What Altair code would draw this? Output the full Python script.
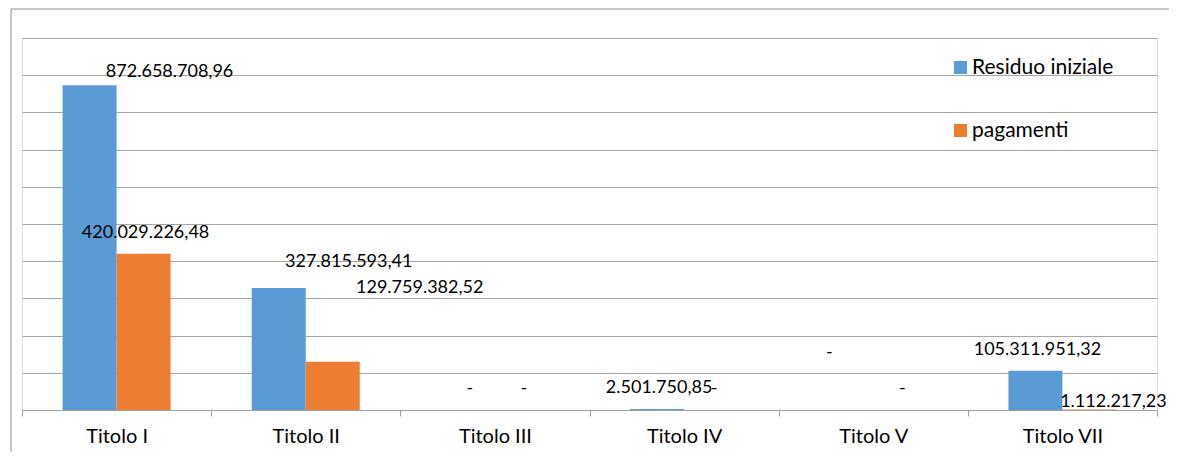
import altair as alt
import pandas as pd

categories = ["Titolo I", "Titolo II", "Titolo III", "Titolo IV", "Titolo V", "Titolo VII"]
series = ["Residuo iniziale", "pagamenti"]
residuo = [872658708.96, 327815593.41, 0, 2501750.85, 0, 105311951.32]
pagamenti = [420029226.48, 129759382.52, 0, 0, 0, 1112217.23]
y_ticks = [i * 100000000 for i in range(11)]

# data label nudges (pixels, relative to the bar top centre), as placed in the original
res_dx = [80, 70, 2, 2, -17, 2]
res_dy = [-13, -26, -21, -21, -57, -21]
pag_dx = [2, 87, 2, 3, 2, 24]
pag_dy = [-21, -74, -21, -21, -21, -8]

colors = ["#5B9BD5", "#ED7D31"]
FONT = "Lato"


def it_fmt(v):
    if v == 0:
        return "-"
    s = f"{v:,.2f}"
    return s.replace(",", "X").replace(".", ",").replace("X", ".")


rows = []
for i, c in enumerate(categories):
    rows.append(dict(category=c, series=series[0], value=residuo[i], label=it_fmt(residuo[i]),
                     dx=res_dx[i], dy=res_dy[i]))
    rows.append(dict(category=c, series=series[1], value=pagamenti[i], label=it_fmt(pagamenti[i]),
                     dx=pag_dx[i], dy=pag_dy[i]))
df = pd.DataFrame(rows)
df["idx"] = range(len(df))

x_enc = alt.X("category:N", sort=categories,
              scale=alt.Scale(domain=categories, paddingInner=0, paddingOuter=0),
              axis=alt.Axis(title=None, labelAngle=0, tickBand="extent", tickSize=6,
                            tickColor="#a0a0a0", domainColor="#a0a0a0", labelFontSize=20,
                            labelColor="#000000", labelFont=FONT, labelPadding=10,
                            grid=False))
xo_enc = alt.XOffset("series:N", sort=series,
                     scale=alt.Scale(domain=series, paddingInner=0, paddingOuter=0.752))
y_enc = alt.Y("value:Q", scale=alt.Scale(domain=[0, 1000000000], nice=False),
              axis=alt.Axis(title=None, values=y_ticks, labels=False, ticks=False,
                            domain=False, grid=True, gridColor="#a6a6a6", gridWidth=1))

base = alt.Chart(df)

bars = base.mark_bar().encode(
    x=x_enc,
    xOffset=xo_enc,
    y=y_enc,
    color=alt.Color("series:N", sort=series,
                    scale=alt.Scale(domain=series, range=colors),
                    legend=alt.Legend(title=None, orient="none", legendX=928, legendY=19,
                                      symbolType="square", symbolSize=169,
                                      symbolStrokeWidth=0, labelFontSize=21,
                                      labelFont=FONT, labelColor="#000000",
                                      rowPadding=41, labelOffset=1)),
)

text_layers = []
for i, r in enumerate(rows):
    t = base.transform_filter(alt.datum.idx == i).mark_text(
        align="center", baseline="middle", fontSize=18, font=FONT, color="#000000",
        dx=r["dx"], dy=r["dy"]
    ).encode(x=x_enc, xOffset=xo_enc, y=y_enc, text="label:N")
    text_layers.append(t)

frame_src = alt.Chart(pd.DataFrame({"k": [0]}))
frame_top = frame_src.mark_rule(color="#8c8c8c", strokeWidth=1).encode(
    x=alt.value(-11), x2=alt.value(1147), y=alt.value(-29))
frame_left = frame_src.mark_rule(color="#8c8c8c", strokeWidth=1).encode(
    x=alt.value(-11), y=alt.value(-29), y2=alt.value(414))

chart = alt.layer(bars, *text_layers, frame_top, frame_left).properties(
    width=1135, height=372,
    autosize=alt.AutoSizeParams(type="none"),
    padding={"left": 14, "top": 30, "right": 12, "bottom": 42},
).configure_view(stroke=None).configure(font=FONT)

chart.save("out.html", embed_options={"renderer": "svg", "actions": False})
